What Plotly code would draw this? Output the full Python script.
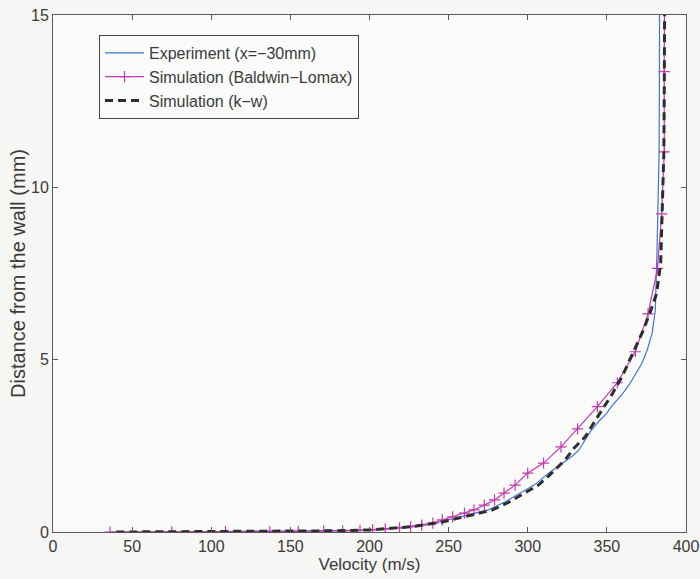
import plotly.graph_objects as go

# Experiment (x=-30mm): velocity (m/s), distance from wall (mm)
exp_u = [45, 120, 170, 200, 218, 232, 244, 255, 265, 275, 285.5, 295, 304, 313, 322, 328,
         332.4, 335.5, 339.5, 345.7, 349.8, 352.8, 356.4, 360.1, 364.6, 368.6, 372.1,
         375.5, 378.6, 380.6, 381.2, 381.7, 382.3, 383.0, 383.2, 383.3]
exp_y = [0.0, 0.01, 0.03, 0.06, 0.12, 0.2, 0.29, 0.41, 0.52, 0.64, 0.87, 1.12, 1.36, 1.7, 2.0, 2.2,
         2.38, 2.62, 2.91, 3.25, 3.44, 3.64, 3.83, 4.02, 4.31, 4.6, 4.89,
         5.28, 5.77, 6.44, 7.22, 8.18, 9.5, 11.0, 13.0, 15.5]

# Simulation (Baldwin-Lomax)
bl_u = [36, 75, 109, 137, 155, 171, 183, 194, 202, 210, 219, 226, 233, 240, 246, 252.5,
        260, 266, 272.5, 279, 285, 292, 300, 310, 321, 331.5, 344, 356.6, 368, 376,
        382, 384.6, 386.3, 386.2, 386.5]
bl_y = [0.0, 0.005, 0.01, 0.015, 0.02, 0.03, 0.035, 0.045, 0.06, 0.09, 0.12, 0.15, 0.2, 0.26,
        0.35, 0.44, 0.55, 0.64, 0.78, 0.93, 1.13, 1.36, 1.71, 2.0, 2.47, 2.99, 3.64, 4.33,
        5.23, 6.33, 7.65, 9.23, 11.03, 13.36, 15.9]

# Simulation (k-w)
kw_u = [40, 100, 150, 180, 200, 215, 226, 236, 246, 257, 267, 277.7, 288.3, 297.4, 306.7,
        314.9, 323.6, 329.2, 336.4, 341.5, 347.5, 353.6, 359.6, 366.6, 372.6, 377.1, 381.4,
        384.0, 385.0, 386.0, 386.3, 386.5]
kw_y = [0.0, 0.01, 0.02, 0.035, 0.06, 0.1, 0.15, 0.22, 0.29, 0.41, 0.52, 0.64, 0.87, 1.12,
        1.36, 1.7, 2.09, 2.43, 2.77, 3.15, 3.59, 4.02, 4.51, 5.19, 5.81, 6.34, 6.92,
        7.8, 9.2, 11.0, 13.0, 15.5]

x_ticks = [0, 50, 100, 150, 200, 250, 300, 350, 400]
y_ticks = [0, 5, 10, 15]

font_family = "Liberation Sans, Arial, sans-serif"
txt = "#3a3a3a"
axc = "#5a5a5a"

fig = go.Figure()
fig.add_trace(go.Scatter(x=exp_u, y=exp_y, mode="lines", name="Experiment (x=\u221230mm)",
                         line=dict(color="#3f73d8", width=1.2)))
fig.add_trace(go.Scatter(x=bl_u, y=bl_y, mode="lines+markers", name="Simulation (Baldwin\u2212Lomax)",
                         line=dict(color="#c23ab0", width=1.2),
                         marker=dict(symbol="cross-thin-open", size=8,
                                     line=dict(color="#c23ab0", width=1.2))))
fig.add_trace(go.Scatter(x=kw_u, y=kw_y, mode="lines", name="Simulation (k\u2212w)",
                         line=dict(color="#2e2e2e", width=3, dash="8px,5px")))

fig.update_layout(
    width=700, height=579,
    margin=dict(l=53, r=14, t=15, b=47),
    paper_bgcolor="#f6f6f4",
    plot_bgcolor="#fbfbfa",
    font=dict(family=font_family, size=16, color=txt),
    showlegend=True,
    legend=dict(x=(99 - 53) / 633, y=1 - (35 - 15) / 517, xanchor="left", yanchor="top",
                bgcolor="#fbfbfa", bordercolor="#444", borderwidth=1,
                font=dict(size=16, color=txt), tracegroupgap=0,
                itemwidth=39),
    xaxis=dict(range=[0, 400], tickvals=x_ticks, ticktext=[str(v) for v in x_ticks],
               ticks="inside", ticklen=5, tickcolor=axc, showline=True, linecolor=axc,
               linewidth=1, mirror="allticks", showgrid=False, zeroline=False,
               automargin=False, ticklabeloverflow="allow",
               title=dict(text="Velocity (m/s)", standoff=2, font=dict(size=17)),
               tickfont=dict(size=16)),
    yaxis=dict(range=[0, 15], tickvals=y_ticks, ticktext=[str(v) for v in y_ticks],
               ticks="inside", ticklen=5, tickcolor=axc, showline=True, linecolor=axc,
               linewidth=1, mirror="allticks", showgrid=False, zeroline=False,
               automargin=False, ticklabeloverflow="allow",
               title=dict(text="Distance from the wall (mm)", standoff=0, font=dict(size=20)),
               tickfont=dict(size=16)),
)

fig.write_html("out.html", config={"displayModeBar": False},
               post_script="document.body.style.margin='0';document.body.style.overflow='hidden';")
